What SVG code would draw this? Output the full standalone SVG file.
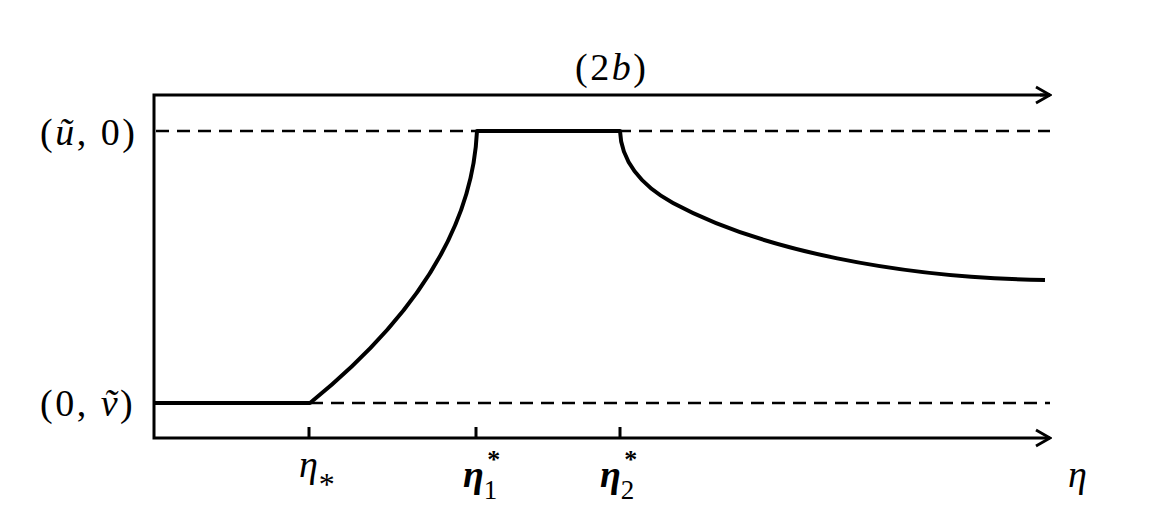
<svg xmlns="http://www.w3.org/2000/svg" width="1150" height="532" viewBox="0 0 1150 532">
<style>
.ax{fill:none;stroke:#000;stroke-width:3}
.dash{fill:none;stroke:#000;stroke-width:2.6;stroke-dasharray:13 8}
.crv{fill:none;stroke:#000;stroke-width:4;stroke-linejoin:round}
.tick{stroke:#000;stroke-width:3}
.lbl{font-family:"Liberation Serif","DejaVu Serif",serif;font-size:38px;fill:#000}
.sp{letter-spacing:2.5px}
.it{font-style:italic}
.bi{font-style:italic;font-weight:bold}
.sub{font-style:normal;font-weight:normal;font-size:27px}
.sup{font-style:normal;font-weight:bold;font-size:26px}
.ast{font-style:normal;font-size:32px}
</style>
<defs>
<marker id="arr" viewBox="0 0 20 20" refX="18" refY="10" markerWidth="20" markerHeight="20" markerUnits="userSpaceOnUse" orient="auto">
<path d="M4,2 L18,10 L4,18" fill="none" stroke="#000" stroke-width="2.8"/>
</marker>
</defs>
<rect width="1150" height="532" fill="#fff"/>
<g id="connectors">
<line class="dash" x1="156" y1="131" x2="1050" y2="131"/>
<line class="dash" x1="310" y1="403" x2="1050" y2="403"/>
<path class="ax" d="M1050,95 L154,95 L154,438 L1050,438" marker-end="url(#arr)"/>
<path class="ax" d="M1040,95 L1050,95" marker-end="url(#arr)"/>
<line class="tick" x1="309" y1="427" x2="309" y2="438"/>
<line class="tick" x1="476" y1="427" x2="476" y2="438"/>
<line class="tick" x1="620" y1="427" x2="620" y2="438"/>
</g>
<g id="curve">
<path class="crv" d="M154,403 L310,403 C400,330 472,240 477,131 L620,131 C621,160 640,185 673,203 C760,250 900,278 1045,280"/>
</g>
<g id="labels">
<text class="lbl sp" x="40" y="145">(<tspan class="it">ũ</tspan>, 0)</text>
<text class="lbl sp" x="40" y="416">(0, <tspan class="it">ṽ</tspan>)</text>
<text class="lbl sp" x="575" y="80">(2<tspan class="it">b</tspan>)</text>
<text class="lbl it" x="299" y="477">η<tspan class="ast" dx="1" dy="18">*</tspan></text>
<text class="lbl bi" x="463" y="487">η<tspan class="sub" dy="12">1</tspan><tspan class="sup" dx="-10" dy="-31">*</tspan></text>
<text class="lbl bi" x="600" y="487">η<tspan class="sub" dy="12">2</tspan><tspan class="sup" dx="-10" dy="-31">*</tspan></text>
<text class="lbl it" x="1068" y="487">η</text>
</g>
</svg>
